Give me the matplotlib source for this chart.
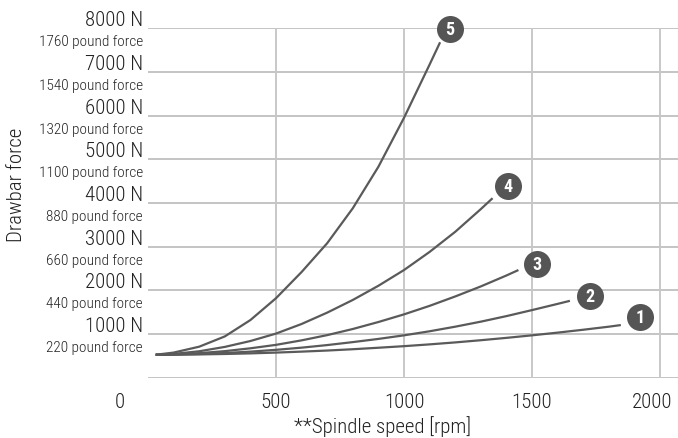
import matplotlib
matplotlib.use("Agg")
import matplotlib.pyplot as plt
from matplotlib import font_manager
from matplotlib.transforms import offset_copy

names = {f.name for f in font_manager.fontManager.ttflist}
FONT = "DejaVu Sans"
for cand in ["Roboto Condensed", "Open Sans Condensed", "IBM Plex Sans Condensed",
             "Archivo Narrow", "PT Sans Narrow", "Liberation Sans Narrow"]:
    if cand in names:
        FONT = cand
        break
plt.rcParams['font.family'] = [FONT, 'DejaVu Sans']
WT = "light"

# ---- data ----
rpm_1 = [30, 100, 200, 300, 400, 500, 600, 700, 800, 900, 1000, 1100, 1200, 1300, 1400, 1500, 1600, 1700, 1800, 1847]
force_1 = [525, 527, 533, 543, 557, 575, 597, 622, 652, 686, 722, 763, 808, 858, 912, 970, 1032, 1098, 1168, 1205]

rpm_2 = [30, 100, 200, 300, 400, 500, 600, 700, 800, 900, 1000, 1100, 1200, 1300, 1400, 1500, 1600, 1648]
force_2 = [525, 529, 543, 565, 597, 638, 688, 747, 815, 888, 970, 1063, 1168, 1283, 1410, 1548, 1690, 1760]

rpm_3 = [30, 100, 200, 300, 400, 500, 600, 700, 800, 900, 1000, 1100, 1200, 1300, 1400, 1447]
force_3 = [525, 533, 562, 608, 673, 752, 855, 975, 1115, 1275, 1450, 1645, 1860, 2090, 2340, 2465]

rpm_4 = [30, 100, 200, 300, 400, 500, 600, 700, 800, 900, 1000, 1100, 1200, 1300, 1346]
force_4 = [525, 545, 605, 705, 840, 1010, 1230, 1490, 1780, 2105, 2465, 2880, 3340, 3860, 4110]

rpm_5 = [30, 100, 200, 300, 400, 500, 600, 700, 800, 900, 1000, 1100, 1141]
force_5 = [525, 575, 710, 945, 1320, 1820, 2420, 3080, 3880, 4830, 5950, 7170, 7680]

curve_labels = ["1", "2", "3", "4", "5"]
x_ticks = [500, 1000, 1500, 2000]
y_ticks_N = [1000, 2000, 3000, 4000, 5000, 6000, 7000, 8000]
y_labels_N = ["1000 N", "2000 N", "3000 N", "4000 N", "5000 N", "6000 N", "7000 N", "8000 N"]
y_labels_lbf = ["220 pound force", "440 pound force", "660 pound force", "880 pound force",
                "1100 pound force", "1320 pound force", "1540 pound force", "1760 pound force"]

# ---- figure ----
W, H = 678, 439
fig = plt.figure(figsize=(W / 100, H / 100), dpi=100)
ax = fig.add_axes([148 / W, (H - 378.7) / H, (678 - 148) / W, (378.7 - 29.3) / H])
ax.set_xlim(0, (678 - 148) / 0.256)
ax.set_ylim(0, 8000)
for s in ax.spines.values():
    s.set_visible(False)
ax.set_xticks([])
ax.set_yticks([])

TXT = "#222222"
LINE = "#5a5a5a"
PX = 0.72  # points per pixel

# grid
for y in [0] + y_ticks_N:
    ax.axhline(y, color="#b4b4b4", lw=1.1, zorder=1)
for x in x_ticks:
    ax.axvline(x, color="#c8c8c8", lw=1.4, zorder=1)

# x tick labels
for v in x_ticks:
    dx = -8 if v == x_ticks[-1] else 0
    ax.annotate(str(v), xy=(v, 0), xycoords="data", xytext=(dx * PX, -24 * PX),
                textcoords="offset points", ha="center", va="center",
                fontsize=15, color=TXT, fontweight=WT, annotation_clip=False)
ax.annotate("0", xy=(0, 0), xycoords="data", xytext=(-28 * PX, -24 * PX),
            textcoords="offset points", ha="center", va="center",
            fontsize=15, color=TXT, fontweight=WT, annotation_clip=False)

series = [(rpm_1, force_1), (rpm_2, force_2), (rpm_3, force_3), (rpm_4, force_4), (rpm_5, force_5)]
label_offsets_px = [(19, 8), (20, 5), (19, 6), (15, 12), (10, 13)]
for (xs, ys), lab, (dx, dy) in zip(series, curve_labels, label_offsets_px):
    ax.plot(xs, ys, color=LINE, lw=1.6, zorder=3, solid_capstyle="butt")
    tr = offset_copy(ax.transData, fig=fig, x=dx * PX, y=dy * PX, units="points")
    ax.plot([xs[-1]], [ys[-1]], marker="o", markersize=27 * PX, color="#555555",
            mec="none", transform=tr, clip_on=False, zorder=5)
    ax.text(xs[-1], ys[-1], lab, transform=tr, ha="center", va="center",
            color="white", fontsize=13, fontweight="bold", zorder=6, clip_on=False)

# y labels
for v, ln, lp in zip(y_ticks_N, y_labels_N, y_labels_lbf):
    ax.annotate(ln, xy=(0, v), xycoords=("axes fraction", "data"),
                xytext=(-5 * PX, 8.5 * PX), textcoords="offset points",
                ha="right", va="center", fontsize=15, color=TXT, fontweight=WT)
    ax.annotate(lp, xy=(0, v), xycoords=("axes fraction", "data"),
                xytext=(-5 * PX, -13 * PX), textcoords="offset points",
                ha="right", va="center", fontsize=11, color=TXT, fontweight=WT)

fig.text(16.5 / W, 1 - 185 / H, "Drawbar force", rotation=90, ha="center", va="center",
         fontsize=15, color=TXT, fontweight=WT)
fig.text(383 / W, 1 - 427 / H, "**Spindle speed [rpm]", ha="center", va="center",
         fontsize=15, color=TXT, fontweight=WT)

fig.savefig("out.png", dpi=100)
